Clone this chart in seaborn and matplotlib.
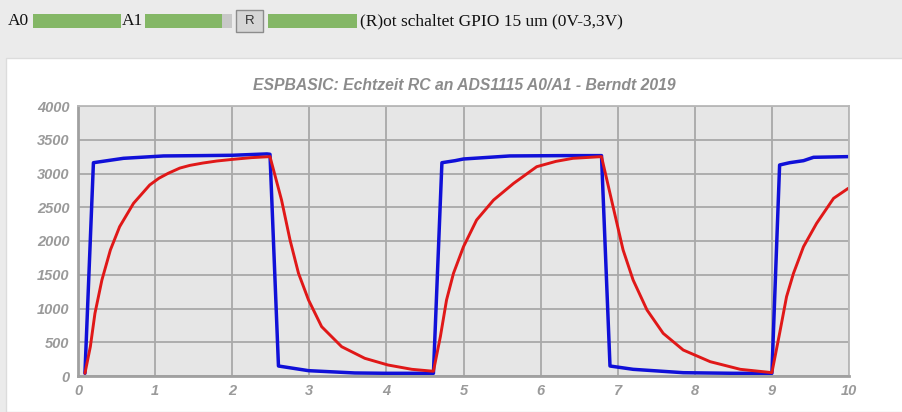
import matplotlib
matplotlib.use("Agg")
import matplotlib.pyplot as plt
from matplotlib.patches import Rectangle
import seaborn as sns
import pandas as pd

# A0: GPIO 15 square wave (blue)
a0_t = [0.09, 0.20, 0.59, 1.11, 1.60, 2.00, 2.45, 2.49, 2.60, 2.99, 3.59, 4.00, 4.61,
        4.72, 4.89, 5.00, 5.60, 6.30, 6.79, 6.90, 7.20, 7.85, 8.50, 9.00,
        9.10, 9.23, 9.41, 9.54, 9.99]
a0_v = [40, 3160, 3225, 3260, 3265, 3270, 3290, 3285, 148, 79, 45, 40, 40,
        3160, 3190, 3215, 3260, 3265, 3265, 148, 99, 49, 40, 40,
        3126, 3160, 3190, 3240, 3250]

# A1: capacitor voltage of the RC network (red)
a1_t = [0.09, 0.16, 0.22, 0.31, 0.42, 0.54, 0.72, 0.93, 1.05, 1.17, 1.32, 1.45, 1.62,
        1.80, 2.01, 2.25, 2.49,
        2.64, 2.75, 2.86, 2.99, 3.16, 3.42, 3.72, 4.02, 4.33, 4.61,
        4.70, 4.78, 4.87, 5.00, 5.17, 5.39, 5.65, 5.95, 6.20, 6.42, 6.79,
        6.94, 7.07, 7.20, 7.38, 7.59, 7.85, 8.20, 8.59, 9.00,
        9.10, 9.19, 9.28, 9.41, 9.58, 9.80, 9.99]
a1_v = [40, 434, 929, 1422, 1867, 2212, 2558, 2830, 2930, 3003, 3080, 3120, 3155,
        3185, 3210, 3235, 3250,
        2607, 2015, 1521, 1126, 731, 434, 262, 163, 99, 70,
        583, 1126, 1521, 1916, 2311, 2607, 2854, 3101, 3180, 3225, 3250,
        2508, 1867, 1422, 978, 632, 385, 212, 99, 50,
        632, 1175, 1521, 1916, 2262, 2632, 2780]

x_ticks = list(range(0, 11))
y_ticks = list(range(0, 4001, 500))
title = "ESPBASIC: Echtzeit RC an ADS1115 A0/A1 - Berndt 2019"
header = "(R)ot schaltet GPIO 15 um (0V-3,3V)"

sns.set_style("whitegrid")
plt.rcParams["font.family"] = ["Liberation Sans", "DejaVu Sans"]

W, H = 903, 412
fig = plt.figure(figsize=(W / 100, H / 100), dpi=100)
fig.patch.set_facecolor("#ebebeb")


def px_rect(x0, y0, x1, y1, **kw):
    fig.patches.append(Rectangle((x0 / W, 1 - y1 / H), (x1 - x0) / W, (y1 - y0) / H,
                                 transform=fig.transFigure, figure=fig, **kw))


def px_text(x, y, s, **kw):
    fig.text(x / W, 1 - y / H, s, **kw)


# chart panel (kept behind the axes)
px_rect(6, 58, 903, 412, facecolor="white", edgecolor="#dcdcdc", linewidth=1, zorder=-10)

# control row
serif = ["Liberation Serif", "DejaVu Serif"]
green = "#84b766"
px_text(8, 21, "A0", family=serif, fontsize=12.5, va="center", ha="left", color="#111111")
px_rect(33, 14, 121, 28, facecolor=green, edgecolor="none")
px_text(122, 21, "A1", family=serif, fontsize=12.5, va="center", ha="left", color="#111111")
px_rect(145, 14, 232, 28, facecolor="#c8c8c8", edgecolor="none")
px_rect(145, 14, 222, 28, facecolor=green, edgecolor="none")
px_rect(236, 10, 263, 32, facecolor="#d6d6d6", edgecolor="#8c8c8c", linewidth=1)
px_text(249.5, 21, "R", fontsize=9.5, va="center", ha="center", color="#333333")
px_rect(268, 14, 357, 28, facecolor=green, edgecolor="none")
px_text(360, 21, header, family=serif, fontsize=12.5, va="center", ha="left", color="#111111")

# plot area
ax = fig.add_axes([78 / W, 1 - 376 / H, 771 / W, 270 / H])
ax.set_facecolor("#e6e6e6")

df0 = pd.DataFrame({"t": a0_t, "v": a0_v})
df1 = pd.DataFrame({"t": a1_t, "v": a1_v})
sns.lineplot(data=df0, x="t", y="v", ax=ax, color="#1010d8", linewidth=2.5,
             sort=False, estimator=None, legend=False, solid_joinstyle="round")
sns.lineplot(data=df1, x="t", y="v", ax=ax, color="#e01818", linewidth=2.1,
             sort=False, estimator=None, legend=False, solid_joinstyle="round")

ax.set_xlim(0, 10)
ax.set_ylim(0, 4000)
ax.set_xticks(x_ticks)
ax.set_yticks(y_ticks)
ax.set_xlabel("")
ax.set_ylabel("")
ax.grid(True, color="#a9a9a9", linewidth=1.3)
ax.set_axisbelow(True)
for side in ["top", "right"]:
    ax.spines[side].set_color("#b8b8b8")
    ax.spines[side].set_linewidth(1.3)
for side in ["left", "bottom"]:
    ax.spines[side].set_color("#a0a0a0")
    ax.spines[side].set_linewidth(2)
ax.tick_params(axis="both", length=0, labelcolor="#9a9a9a")
ax.tick_params(axis="x", pad=6)
ax.tick_params(axis="y", pad=6)
for lab in ax.get_xticklabels() + ax.get_yticklabels():
    lab.set_fontstyle("italic")
    lab.set_fontweight("bold")
    lab.set_fontsize(10.5)

px_text(464, 86, title, fontsize=11.3, fontstyle="italic", fontweight="bold",
        color="#8c8c8c", ha="center", va="center")

fig.savefig("out.png", dpi=100, facecolor=fig.get_facecolor())
